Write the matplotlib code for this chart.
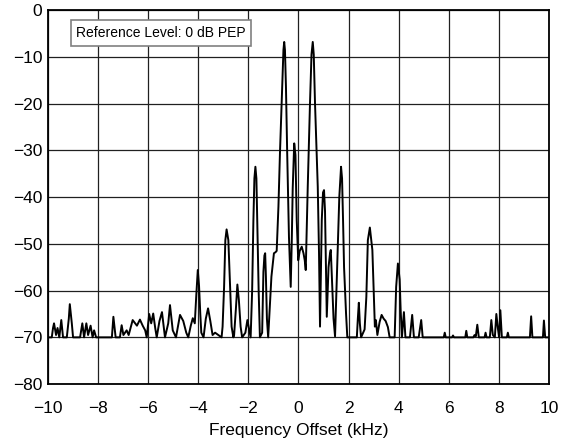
import matplotlib
matplotlib.use('Agg')
import matplotlib.pyplot as plt
from matplotlib.patches import Rectangle

plt.rcParams['font.family'] = ['Liberation Sans', 'DejaVu Sans']

# Spectrum trace: frequency offset (kHz) and level (dB)
freq_khz = [
    -10.00, -9.85, -9.80, -9.76, -9.68, -9.62, -9.55, -9.47, -9.40, -9.25,
    -9.17, -9.13, -9.05, -9.00, -8.72, -8.63, -8.56, -8.47, -8.40, -8.30,
    -8.22, -8.16, -8.08, -7.45, -7.39, -7.30, -7.13, -7.06, -6.99, -6.86,
    -6.78, -6.62, -6.55, -6.45, -6.33, -6.22, -6.12, -6.06, -5.96, -5.88,
    -5.80, -5.72, -5.66, -5.55, -5.45, -5.33, -5.20, -5.13, -5.02, -4.89,
    -4.73, -4.60, -4.48, -4.40, -4.30, -4.22, -4.14, -4.08, -4.02, -3.97,
    -3.92, -3.88, -3.79, -3.70, -3.61, -3.52, -3.43, -3.33, -3.20, -3.07,
    -3.03, -2.97, -2.92, -2.87, -2.80, -2.73, -2.67, -2.60, -2.57, -2.50,
    -2.44, -2.38, -2.31, -2.25, -2.12, -2.04, -1.98, -1.91, -1.85, -1.80,
    -1.76, -1.72, -1.68, -1.64, -1.59, -1.54, -1.45, -1.40, -1.36, -1.33,
    -1.30, -1.26, -1.21, -1.15, -1.08, -0.98, -0.92, -0.87, -0.80, -0.74,
    -0.65, -0.60, -0.57, -0.54, -0.50, -0.45, -0.38, -0.31, -0.27, -0.23,
    -0.17, -0.12, -0.07, -0.01, 0.05, 0.13, 0.20, 0.25, 0.29, 0.37,
    0.46, 0.52, 0.57, 0.61, 0.66, 0.77, 0.82, 0.86, 0.93, 0.98,
    1.02, 1.06, 1.13, 1.20, 1.26, 1.29, 1.34, 1.40, 1.46, 1.56,
    1.63, 1.70, 1.74, 1.78, 1.82, 1.90, 1.95, 2.33, 2.37, 2.41,
    2.45, 2.50, 2.64, 2.71, 2.77, 2.85, 2.95, 3.00, 3.05, 3.09,
    3.15, 3.24, 3.32, 3.40, 3.48, 3.57, 3.64, 3.84, 3.90, 3.97,
    4.04, 4.08, 4.13, 4.21, 4.27, 4.45, 4.54, 4.61, 4.80, 4.90,
    4.96, 5.80, 5.84, 5.88, 6.13, 6.17, 6.21, 6.66, 6.70, 6.74,
    6.98, 7.03, 7.08, 7.14, 7.20, 7.43, 7.47, 7.51, 7.64, 7.70,
    7.76, 7.84, 7.90, 7.96, 8.01, 8.06, 8.12, 8.32, 8.36, 8.40,
    9.24, 9.29, 9.34, 9.76, 9.80, 9.85, 10.00,
]
level_db = [
    -70.0, -70.0, -68.0, -67.0, -69.5, -68.0, -70.0, -66.3, -70.0, -70.0,
    -66.0, -62.9, -67.0, -70.0, -70.0, -67.0, -70.0, -67.0, -69.5, -67.5,
    -70.0, -68.5, -70.0, -70.0, -65.6, -70.0, -70.0, -67.4, -69.5, -68.5,
    -69.5, -66.3, -66.8, -67.5, -66.2, -67.5, -68.5, -70.0, -65.0, -67.0,
    -64.9, -68.0, -70.0, -66.5, -64.6, -70.0, -67.0, -63.1, -68.5, -70.0,
    -65.2, -66.5, -69.0, -70.0, -67.5, -65.9, -67.0, -61.0, -55.6, -59.0,
    -65.0, -69.0, -70.0, -66.0, -63.8, -66.5, -69.5, -69.0, -69.5, -70.0,
    -67.7, -59.2, -49.2, -46.9, -49.2, -59.2, -67.7, -70.0, -69.5, -64.0,
    -58.7, -62.0, -67.7, -70.0, -69.0, -66.3, -68.0, -70.0, -60.0, -45.0,
    -36.0, -33.5, -36.0, -47.0, -60.0, -70.0, -69.0, -56.0, -52.5, -52.0,
    -57.0, -66.0, -70.0, -64.0, -57.0, -52.0, -51.8, -51.5, -42.0, -30.7,
    -16.4, -8.5, -6.8, -8.5, -16.4, -30.7, -48.5, -59.2, -50.0, -38.1,
    -28.5, -31.0, -44.9, -53.5, -51.5, -50.6, -52.0, -53.5, -55.6, -37.8,
    -19.9, -9.5, -6.8, -9.5, -19.9, -37.8, -52.0, -67.7, -44.9, -39.0,
    -38.5, -43.0, -65.6, -55.0, -52.0, -51.3, -58.0, -66.0, -69.8, -52.0,
    -40.0, -33.5, -36.0, -45.0, -55.0, -65.0, -70.0, -70.0, -66.0, -62.6,
    -67.0, -70.0, -68.3, -61.3, -49.2, -46.5, -51.3, -59.2, -67.7, -66.3,
    -69.5, -66.7, -65.2, -66.0, -66.5, -67.8, -70.0, -70.0, -59.2, -54.2,
    -57.6, -64.2, -70.0, -64.6, -70.0, -70.0, -65.2, -70.0, -70.0, -66.3,
    -70.0, -70.0, -69.0, -70.0, -70.0, -69.6, -70.0, -70.0, -68.6, -70.0,
    -70.0, -69.5, -69.8, -67.3, -70.0, -70.0, -69.0, -70.0, -70.0, -66.3,
    -69.5, -70.0, -65.0, -68.0, -70.0, -64.2, -70.0, -70.0, -69.0, -70.0,
    -70.0, -65.5, -70.0, -70.0, -66.4, -70.0, -70.0,
]

x_ticks = [-10, -8, -6, -4, -2, 0, 2, 4, 6, 8, 10]
y_ticks = [-80, -70, -60, -50, -40, -30, -20, -10, 0]
annotation = 'Reference Level: 0 dB PEP'


def create_plot_spectrum(freq, level):
    """
    Create a line plot of a spectrum trace
    :param freq: List of frequency offsets in kHz
    :param level: List of levels in dB
    :return: Figure object
    """
    fig, ax = plt.subplots(figsize=(5.73, 4.42), dpi=100)
    fig.subplots_adjust(left=0.0838, right=0.958, top=0.977, bottom=0.131)

    # Grid drawn below the trace
    ax.set_axisbelow(True)
    ax.grid(True, color='#202020', linewidth=0.9)

    ax.plot(freq, level, color='black', linewidth=1.4)

    ax.set_xlim(-10, 10)
    ax.set_ylim(-80, 0)
    ax.set_xticks(x_ticks)
    ax.set_yticks(y_ticks)
    ax.tick_params(length=0, labelsize=12.5)
    ax.tick_params(axis='x', pad=12.5)
    ax.tick_params(axis='y', pad=4)
    for spine in ax.spines.values():
        spine.set_linewidth(1.3)
        spine.set_color('black')

    ax.set_xlabel('Frequency Offset (kHz)', fontsize=12.5, labelpad=4.5)

    # Reference level box in the upper left corner
    box = Rectangle((0.045, 0.904), 0.36, 0.069, transform=ax.transAxes,
                    facecolor='white', edgecolor='#808080', linewidth=1.2, zorder=3)
    ax.add_patch(box)
    ax.text(0.225, 0.9385, annotation, transform=ax.transAxes, ha='center', va='center',
            fontsize=10, zorder=4)

    return fig


def save_figure(fig, filename):
    """
    Save the figure to a file
    :param fig: Figure object
    :param filename: Filename to save the figure
    :return: None
    """
    fig.savefig(filename, dpi=100)
    plt.close(fig)


if __name__ == '__main__':
    figure = create_plot_spectrum(freq_khz, level_db)
    save_figure(figure, 'out.png')
